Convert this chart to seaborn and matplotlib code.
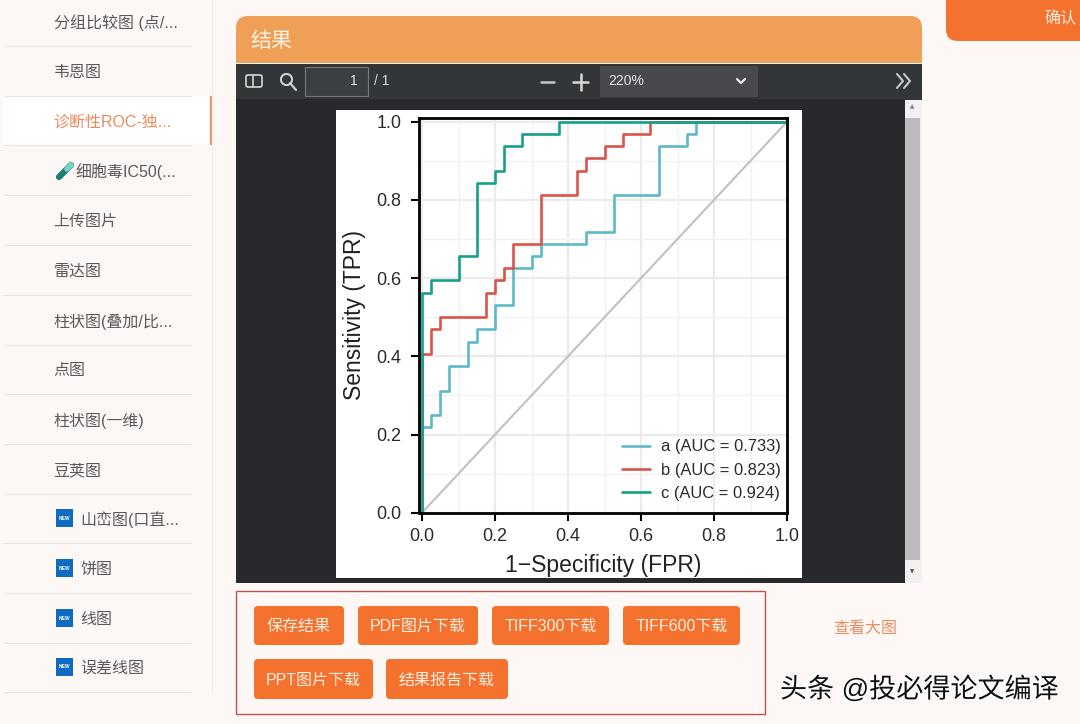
import matplotlib
matplotlib.use('Agg')
import matplotlib.pyplot as plt
import matplotlib.patheffects as pe
from matplotlib.patches import FancyBboxPatch, Rectangle
import pandas as pd
import seaborn as sns

# ROC steps
fpr_a = [0, 0, 0.025, 0.05, 0.075, 0.125, 0.15, 0.2, 0.25, 0.3, 0.325, 0.45, 0.525, 0.65, 0.725, 0.75, 1.0]
tpr_a = [0, 0.219, 0.25, 0.3125, 0.375, 0.4375, 0.469, 0.531, 0.625, 0.656, 0.6875, 0.719, 0.8125, 0.9375, 0.969, 1.0, 1.0]
fpr_b = [0, 0, 0.025, 0.05, 0.175, 0.2, 0.225, 0.25, 0.325, 0.425, 0.45, 0.5, 0.55, 0.625, 1.0]
tpr_b = [0, 0.406, 0.469, 0.5, 0.5625, 0.594, 0.625, 0.6875, 0.8125, 0.875, 0.906, 0.9375, 0.969, 1.0, 1.0]
fpr_c = [0, 0, 0.025, 0.1, 0.15, 0.2, 0.225, 0.275, 0.375, 1.0]
tpr_c = [0, 0.5625, 0.594, 0.656, 0.844, 0.875, 0.9375, 0.969, 1.0, 1.0]
labels = ['a (AUC = 0.733)', 'b (AUC = 0.823)', 'c (AUC = 0.924)']
colors = ['#5cb9c9', '#d9554a', '#14a08a']
ticks = [0.0, 0.2, 0.4, 0.6, 0.8, 1.0]
minor_ticks = [0.1, 0.3, 0.5, 0.7, 0.9]

# page text
menu_items = ['分组比较图 (点/...', '韦恩图', '诊断性ROC-独...', '细胞毒IC50(...', '上传图片', '雷达图',
              '柱状图(叠加/比...', '点图', '柱状图(一维)', '豆荚图', '山峦图(口直...', '饼图', '线图', '误差线图']
menu_y = [21, 71, 120, 170, 220, 270, 320, 369, 419, 469, 518, 568, 618, 667]
buttons = [('保存结果', 254, 344, 606, 645), ('PDF图片下载', 358, 478, 606, 645),
           ('TIFF300下载', 492, 609, 606, 645), ('TIFF600下载', 623, 740, 606, 645),
           ('PPT图片下载', 254, 373, 659, 699), ('结果报告下载', 386, 508, 659, 699)]

sns.set_style('white')
plt.rcParams['font.family'] = ['Liberation Sans', 'Noto Sans CJK SC']

PAGE = '#fdf8f5'
ORANGE = '#f4722e'
fig = plt.figure(figsize=(10.8, 7.24), dpi=100, facecolor=PAGE)

# page drawn in pixel coordinates
bg = fig.add_axes([0, 0, 1, 1])
bg.set_xlim(0, 1080)
bg.set_ylim(724, 0)
bg.axis('off')


def rect(x0, y0, x1, y1, color, **kw):
    bg.add_patch(Rectangle((x0, y0), x1 - x0, y1 - y0, facecolor=color, edgecolor='none', **kw))


def rounded(x0, y0, x1, y1, color, r=5):
    bg.add_patch(FancyBboxPatch((x0 + r, y0 + r), x1 - x0 - 2 * r, y1 - y0 - 2 * r,
                                boxstyle='round,pad=%d,rounding_size=%d' % (r, r),
                                facecolor=color, edgecolor='none'))


# sidebar
rect(3, 96, 211, 145, 'white')
rect(210, 96, 212, 145, '#ee8a68')
bg.plot([211.5, 211.5], [0, 692], color='#f3eeea', lw=1)
for i, (name, y) in enumerate(zip(menu_items, menu_y)):
    x = 53.5
    if i == 3:
        x = 75.5
        bg.plot([59, 71], [177, 165], color='#17806f', lw=4.5, solid_capstyle='round')
        bg.plot([67, 71], [169, 165], color='#7fd0c4', lw=4, solid_capstyle='round')
    if i >= 10:
        x = 80.5
        rect(56, y - 9, 73, y + 9, '#0d6cbf')
        bg.text(64.5, y, 'NEW', color='white', fontsize=3.5, ha='center', va='center', weight='bold')
    bg.text(x, y + 1.5, name, fontsize=11.5, va='center', color='#ee8a5e' if i == 2 else '#5a5a5a')
    bg.plot([4, 191], [y + 25, y + 25], color='#e8e3df', lw=0.8)

# result header
rounded(236, 16, 922, 50, '#f0a056', r=12)
rect(236, 30, 922, 63, '#f0a056')
bg.text(250, 41, '结果', fontsize=15, color='#fdf3e6', va='center')

# confirm button
rounded(946, -20, 1100, 41, ORANGE, r=12)
bg.text(1060, 18.5, '确认', fontsize=11.5, color='#fdeee2', ha='center', va='center')

# pdf viewer
rect(236, 64, 922, 100, '#323639')
rect(236, 99, 905, 583, '#27292d')
rect(336, 110, 802, 578, 'white')
rect(905, 100, 922, 583, '#f1f1f1')
rect(905, 118, 920, 560, '#bcbcbf')
bg.text(912, 107, '▲', fontsize=4, color='#777777', ha='center', va='center', family='DejaVu Sans')
bg.text(912, 572, '▼', fontsize=4, color='#555555', ha='center', va='center', family='DejaVu Sans')
bg.add_patch(FancyBboxPatch((247, 76), 14, 10, boxstyle='round,pad=1,rounding_size=2',
                            facecolor='none', edgecolor='#d5d5d5', lw=1.2))
bg.plot([253, 253], [75, 87], color='#d5d5d5', lw=1.2)
bg.plot([286, 286], [79, 79], marker='o', ms=8, mfc='none', mec='#cfcfcf', mew=1.3)
bg.plot([290, 296], [83, 90], color='#cfcfcf', lw=1.6)
bg.add_patch(Rectangle((305, 67), 63, 29, facecolor='#3b3e42', edgecolor='#77797c', lw=0.8))
bg.text(358, 81, '1', fontsize=10, color='#e8e8e8', ha='right', va='center')
bg.text(374, 81, '/ 1', fontsize=10, color='#d8d8d8', va='center')
bg.plot([541, 554], [82, 82], color='#c8c8c8', lw=1.8)
bg.plot([573, 588], [82, 82], color='#d8d8d8', lw=1.8)
bg.plot([580.5, 580.5], [74, 90], color='#d8d8d8', lw=1.8)
rect(600, 66, 758, 97, '#47494d')
bg.text(608, 81, '220%', fontsize=10, color='#e8e8e8', va='center')
bg.plot([737, 741, 745], [79, 83, 79], color='#e8e8e8', lw=1.6)
bg.plot([897, 903, 897], [74, 81, 88], color='#c8c8c8', lw=1.5)
bg.plot([904, 910, 904], [74, 81, 88], color='#c8c8c8', lw=1.5)

# buttons under the viewer
bg.add_patch(Rectangle((236, 591), 529, 123, facecolor='none', edgecolor='#c0504d', lw=1))
for name, x0, x1, y0, y1 in buttons:
    rounded(x0, y0, x1, y1, ORANGE, r=4)
    bg.text((x0 + x1) / 2, (y0 + y1) / 2 + 1, name, fontsize=11.5, color='#fdeee2', ha='center', va='center')
bg.text(865, 629, '查看大图', fontsize=11.5, color='#ee8a5e', ha='center', va='center')
bg.text(780, 690, '头条 @投必得论文编译', fontsize=19.5, color='#111111', va='center',
        path_effects=[pe.withStroke(linewidth=2.5, foreground='white')])

# roc plot
ax = fig.add_axes([418.7 / 1080, 1 - 512.7 / 724, 368.3 / 1080, 394.7 / 724])
ax.set_facecolor('white')
ax.set_axisbelow(True)

df = pd.concat([
    pd.DataFrame({'fpr': fpr_a, 'tpr': tpr_a, 'group': labels[0]}),
    pd.DataFrame({'fpr': fpr_b, 'tpr': tpr_b, 'group': labels[1]}),
    pd.DataFrame({'fpr': fpr_c, 'tpr': tpr_c, 'group': labels[2]}),
])
ax.plot([0, 1], [0, 1], color='#c2c0c0', lw=1.5, zorder=1.5)
sns.lineplot(data=df, x='fpr', y='tpr', hue='group', palette=colors, estimator=None, sort=False,
             drawstyle='steps-post', lw=1.9, ax=ax, zorder=2)

ax.set_xlim(-0.0092, 1.0)
ax.set_ylim(0, 1.0095)
ax.set_xticks(ticks)
ax.set_yticks(ticks)
ax.set_xticks(minor_ticks, minor=True)
ax.set_yticks(minor_ticks, minor=True)
ax.grid(which='major', color='#ebebeb', lw=1.6)
ax.grid(which='minor', color='#f1f1f1', lw=1.0)
for side in ['left', 'right', 'top', 'bottom']:
    ax.spines[side].set_visible(True)
    ax.spines[side].set_color('black')
    ax.spines[side].set_linewidth(2)
ax.tick_params(which='major', axis='both', length=5.5, width=1.5, color='black', bottom=True, left=True,
               labelsize=13, labelcolor='#2b2b2b')
ax.tick_params(axis='x', which='major', pad=5.5)
ax.tick_params(axis='y', which='major', pad=7)
ax.tick_params(which='minor', length=0)
ax.set_xlabel('1\u2212Specificity (FPR)', fontsize=16.5, color='#222222', labelpad=6.5)
ax.set_ylabel('Sensitivity (TPR)', fontsize=16.5, color='#222222', labelpad=7)

ax.legend(title=None, frameon=False, loc='lower right', bbox_to_anchor=(1.024, -0.008), fontsize=11.9,
          handlelength=1.7, handletextpad=0.66, labelspacing=0.5, labelcolor='#2b2b2b')

fig.savefig('out.png', dpi=100, facecolor=PAGE)
